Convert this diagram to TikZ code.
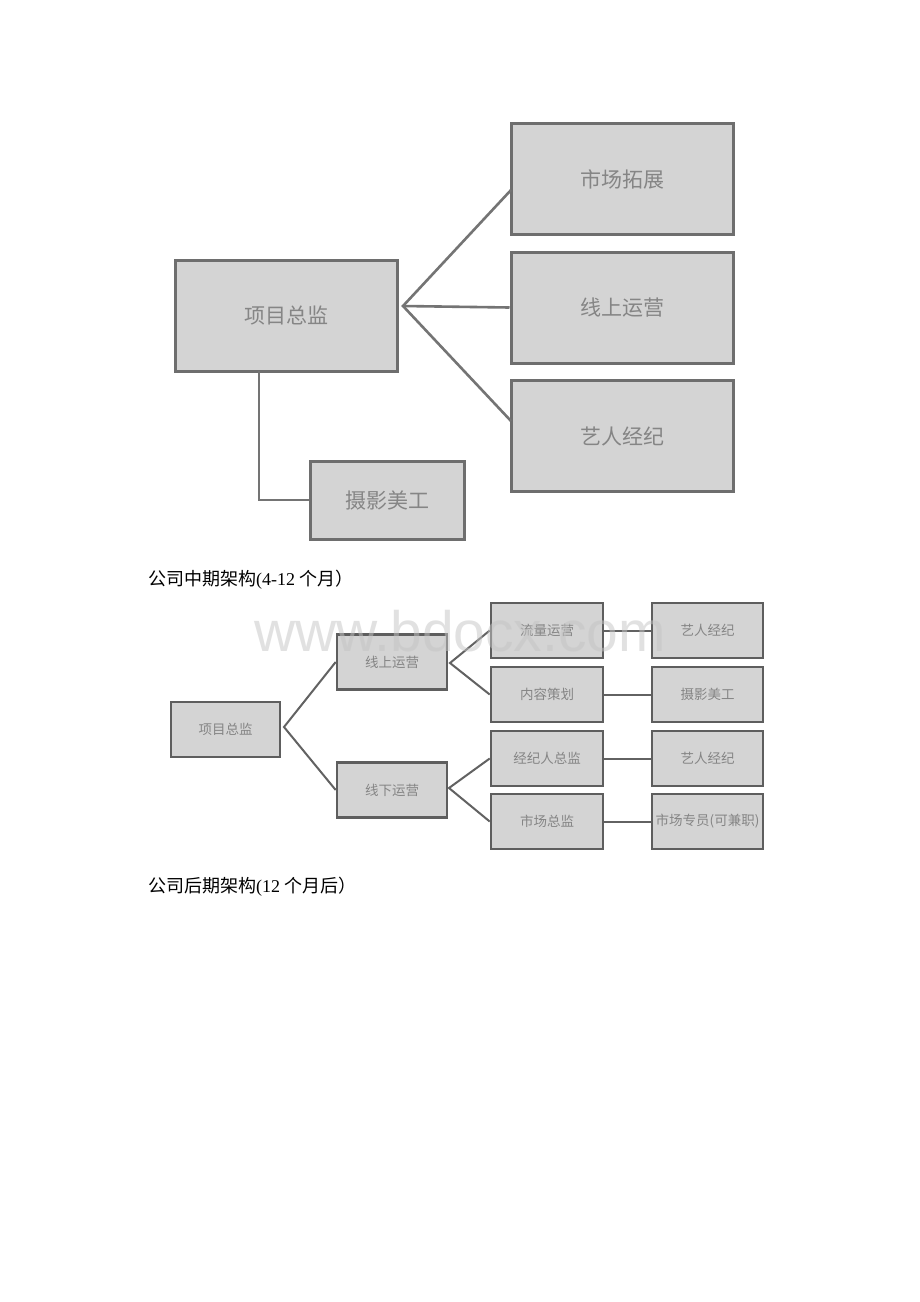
\documentclass[tikz,border=0pt]{standalone}
\usepackage{fontspec}
\setmainfont{Liberation Serif}
\newfontfamily\cjk{Noto Sans CJK SC}
\newfontfamily\wmfont{Liberation Sans}
\definecolor{boxfill}{HTML}{D4D4D4}
\definecolor{boxline}{HTML}{6E6E6E}
\definecolor{sboxline}{HTML}{5E5E5E}
\definecolor{boxtext}{HTML}{858585}
\definecolor{conn}{HTML}{747474}
\definecolor{sconn}{HTML}{626262}
\definecolor{wmark}{HTML}{C4C4C4}
\begin{document}
\begin{tikzpicture}[x=1pt,y=-1pt,
  bigbox/.style={draw=boxline, line width=3pt, fill=boxfill, text=boxtext,
    font=\cjk\fontsize{21}{24}\selectfont, inner sep=0pt,
    minimum width=222pt, minimum height=111pt},
  smallbox/.style={draw=sboxline, line width=2.6pt, fill=boxfill, text=boxtext,
    font=\cjk\fontsize{13.5}{16}\selectfont, inner sep=0pt,
    minimum width=111pt, minimum height=55pt},
  bigconn/.style={draw=conn, line width=2.6pt},
  smallconn/.style={draw=sconn, line width=2pt},
  caption/.style={anchor=west, inner sep=0pt, font=\fontsize{18}{20}\selectfont}]
\useasboundingbox[fill=white] (0,0) rectangle (920,1302);

% ---- top diagram ----
\node[bigbox] (A) at (286,315.5) {项目总监};
\node[bigbox] (B) at (622,179) {市场拓展};
\node[bigbox] (C) at (622,307.5) {线上运营};
\node[bigbox] (D) at (622,436) {艺人经纪};
\node[bigbox, minimum width=154pt, minimum height=78pt] (E) at (387,500) {摄影美工};
\coordinate (fA) at (403,306);
\coordinate (bB) at (511,190);
\coordinate (bD) at (511,421);
\coordinate (sA) at (259,371);
\draw[bigconn] (bB) -- (fA) -- (bD);
\draw[bigconn] (fA) -- (C.west);
\draw[bigconn] (sA) |- (E.west);

% ---- caption 1 ----
\node[caption] (cap1) at (148,580) {{\cjk 公司中期架构}(4-12 {\cjk 个月）}};

% ---- middle diagram ----
\node[smallbox, minimum width=109pt] (M0) at (225.5,729.5) {项目总监};
\node[smallbox, minimum width=110pt] (L1) at (392,662) {线上运营};
\node[smallbox, minimum width=110pt] (L2) at (392,790) {线下运营};
\node[smallbox, minimum width=112pt] (R1) at (547,630.5) {流量运营};
\node[smallbox, minimum width=112pt] (R2) at (547,694.5) {内容策划};
\node[smallbox, minimum width=112pt] (R3) at (547,758.5) {经纪人总监};
\node[smallbox, minimum width=112pt] (R4) at (547,821.5) {市场总监};
\node[smallbox] (S1) at (707.5,630.5) {艺人经纪};
\node[smallbox] (S2) at (707.5,694.5) {摄影美工};
\node[smallbox] (S3) at (707.5,758.5) {艺人经纪};
\node[smallbox] (S4) at (707.5,821.5) {市场专员(可兼职)};
\coordinate (f0) at (284,727);
\coordinate (f1) at (450,663);
\coordinate (f2) at (449,788);
\draw[smallconn] (L1.west) -- (f0) -- (L2.west);
\draw[smallconn] (R1.west) -- (f1) -- (R2.west);
\draw[smallconn] (R3.west) -- (f2) -- (R4.west);
\draw[smallconn] (R1.east) -- (S1.west);
\draw[smallconn] (R2.east) -- (S2.west);
\draw[smallconn] (R3.east) -- (S3.west);
\draw[smallconn] (R4.east) -- (S4.west);

% ---- watermark ----
\node[anchor=base west, inner sep=0pt, text=wmark, text opacity=0.5,
  font=\wmfont\fontsize{57}{60}\selectfont] (wm) at (254,651) {www.bdocx.com};

% ---- caption 2 ----
\node[caption] (cap2) at (148,887) {{\cjk 公司后期架构}(12 {\cjk 个月后）}};
\end{tikzpicture}
\end{document}
